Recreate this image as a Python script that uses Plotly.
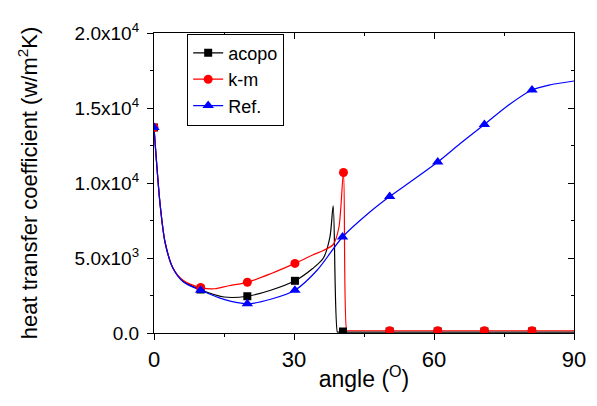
import plotly.graph_objects as go

# ---- data ----
# marker points
acopo_mx = [0, 10, 20, 30.2, 40.5, 50.5, 60.8, 70.8, 81]
acopo_my = [13700, 2900, 2450, 3480, 100, 100, 100, 100, 100]
km_mx = [0, 10, 20, 30.2, 40.6, 50.5, 60.8, 70.8, 81]
km_my = [13700, 3030, 3380, 4640, 10700, 150, 150, 150, 150]
ref_mx = [0, 10, 20, 30.2, 40.4, 50.5, 60.8, 70.8, 81]
ref_my = [13700, 2850, 1950, 2850, 6400, 9100, 11400, 13900, 16200]

# smooth curve points
acopo_lx = [0, 1.3, 2.4, 4.1, 6.3, 10, 15, 20, 25, 30.2, 34, 36.3, 37.7, 38.4, 39.3, 39.5, 40.5, 90]
acopo_ly = [13700, 8600, 6000, 4300, 3450, 2880, 2400, 2450, 2850, 3480, 4300, 5000, 6400, 8470, 60, 60, 60, 60]
km_lx = [0, 1.3, 2.4, 4.1, 6.3, 10, 13, 16, 20, 25, 30.2, 34, 36.3, 38.4, 39.6, 40.6, 41.3, 41.5, 90]
km_ly = [13700, 8600, 6000, 4300, 3500, 3030, 2950, 3150, 3380, 3950, 4640, 5200, 5500, 5900, 7000, 10700, 150, 150, 150]
ref_lx = [0, 1.3, 2.4, 4.1, 6.3, 10, 15, 20, 25, 30.2, 35, 40.4, 46, 50.5, 55.5, 60.8, 65.5, 70.8, 76, 81, 85, 90]
ref_ly = [13700, 8600, 6000, 4300, 3400, 2850, 2240, 1950, 2250, 2850, 4200, 6400, 8000, 9100, 10200, 11400, 12600, 13900, 15200, 16200, 16550, 16800]

y_tickvals = [0, 5000, 10000, 15000, 20000]
y_ticktext = ["0.0", "5.0x10<sup>3</sup>", "1.0x10<sup>4</sup>", "1.5x10<sup>4</sup>", "2.0x10<sup>4</sup>"]
x_tickvals = [0, 30, 60, 90]

series = [
    ("acopo", acopo_lx, acopo_ly, acopo_mx, acopo_my, "#000000", "square", 8),
    ("k-m", km_lx, km_ly, km_mx, km_my, "#ff0000", "circle", 9),
    ("Ref.", ref_lx, ref_ly, ref_mx, ref_my, "#0000ff", "triangle-up", 10),
]

FONT = "Liberation Sans, Arial, sans-serif"
fig = go.Figure()
for name, lx, ly, mx, my, col, sym, ms in series:
    fig.add_trace(go.Scatter(x=lx, y=ly, mode="lines", line=dict(color=col, width=1.2, shape="spline", smoothing=0.8),
                             showlegend=False, hoverinfo="skip"))
for name, lx, ly, mx, my, col, sym, ms in series:
    fig.add_trace(go.Scatter(x=mx, y=my, mode="markers", marker=dict(color=col, symbol=sym, size=ms),
                             showlegend=False))
for name, lx, ly, mx, my, col, sym, ms in series:
    fig.add_trace(go.Scatter(x=[None], y=[None], mode="lines+markers", name=name,
                             line=dict(color=col, width=1.2), marker=dict(color=col, symbol=sym, size=ms)))
fig.add_trace(go.Scatter(x=[None], y=[None], xaxis="x2", yaxis="y2", showlegend=False))

axis_common = dict(showline=True, linecolor="black", linewidth=1.3, showgrid=False, zeroline=False,
                   tickcolor="black", tickwidth=1, ticklen=6)
fig.update_layout(
    width=597, height=406,
    margin=dict(l=146, r=31, t=15, b=81),
    paper_bgcolor="white", plot_bgcolor="white",
    font=dict(family=FONT, color="black"),
    xaxis=dict(range=[0, 90], tickvals=x_tickvals, ticks="outside", tickfont=dict(size=22),
               minor=dict(dtick=15, tick0=0, ticks="outside", ticklen=3, tickcolor="black"),
               title=dict(text="angle (<sup>O</sup>)", font=dict(size=23), standoff=0), **axis_common),
    yaxis=dict(range=[0, 20000], tickvals=y_tickvals, ticktext=y_ticktext, ticks="outside",
               tickfont=dict(size=19), ticklabelstandoff=4,
               minor=dict(tickvals=[2500, 7500, 12500, 17500], ticks="outside", ticklen=3, tickcolor="black"),
               title=dict(text="heat transfer coefficient (w/m<sup>2</sup>K)", font=dict(size=22), standoff=30),
               **axis_common),
    xaxis2=dict(range=[0, 90], overlaying="x", side="top", anchor="y2", tickvals=x_tickvals, ticks="inside",
                showticklabels=False, minor=dict(dtick=15, tick0=0, ticks="inside", ticklen=3, tickcolor="black"),
                **axis_common),
    yaxis2=dict(range=[0, 20000], overlaying="y", side="right", anchor="x2", tickvals=y_tickvals, ticks="inside",
                showticklabels=False,
                minor=dict(tickvals=[2500, 7500, 12500, 17500], ticks="inside", ticklen=3, tickcolor="black"),
                **axis_common),
    legend=dict(x=0.079, y=0.998, xanchor="left", yanchor="top", bgcolor="white",
                bordercolor="black", borderwidth=1, font=dict(size=18), tracegroupgap=0),
    showlegend=True,
)
fig.write_html("out.html")
